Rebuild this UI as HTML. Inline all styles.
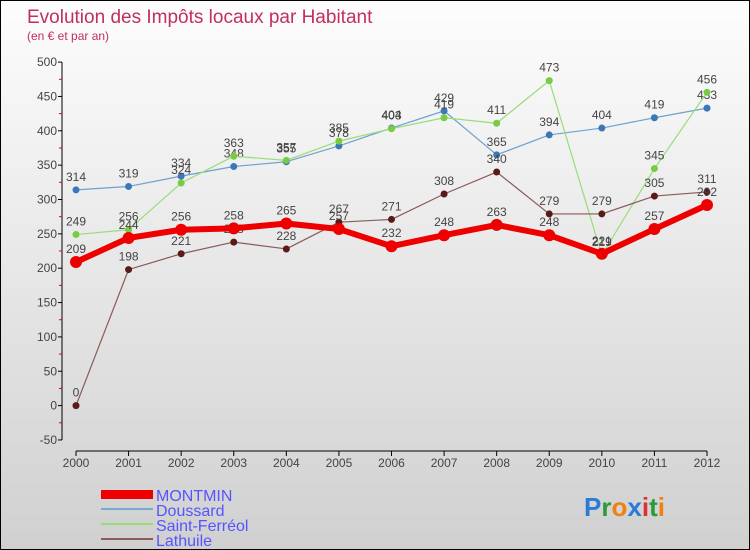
<!DOCTYPE html>
<html><head><meta charset="utf-8"><style>
body{margin:0;}
#c{width:750px;height:550px;position:relative;box-sizing:border-box;border:1px solid #000;background:linear-gradient(#fdfdfd,#d0d0d0);font-family:"Liberation Sans",sans-serif;overflow:hidden}
svg{position:absolute;left:0;top:0}
</style></head><body>
<div id="c">
<svg id="s" width="750" height="550">
<text x="26" y="22" font-size="19" fill="#c0305a">Evolution des Impôts locaux par Habitant</text>
<text x="26" y="39" font-size="12" fill="#c0305a">(en € et par an)</text>
<g id="axes"></g><g id="series"></g>
<g>
<rect x="100" y="489" width="52" height="9" fill="#e00"/>
<text x="155" y="500" font-size="16" fill="#5555ff">MONTMIN</text>
<rect x="100" y="507" width="52" height="2" fill="#7aa8d0"/>
<text x="155" y="515" font-size="16" fill="#5555ff">Doussard</text>
<rect x="100" y="522" width="52" height="2" fill="#99dd77"/>
<text x="155" y="530" font-size="16" fill="#5555ff">Saint-Ferréol</text>
<rect x="100" y="537" width="52" height="2" fill="#8b5a5a"/>
<text x="155" y="545" font-size="16" fill="#5555ff">Lathuile</text>
</g>
<text x="583" y="515" font-size="26" font-weight="bold"><tspan fill="#2a7ad8">P</tspan><tspan fill="#2a9a3a">r</tspan><tspan fill="#f08010">o</tspan><tspan fill="#2a7ad8">x</tspan><tspan fill="#e03030">i</tspan><tspan fill="#2a9a3a">t</tspan><tspan fill="#f08010">i</tspan></text>
</svg>
</div>
<script>
const years=[2000,2001,2002,2003,2004,2005,2006,2007,2008,2009,2010,2011,2012];
const montmin=[209,244,256,258,265,257,232,248,263,248,221,257,292];
const doussard=[314,319,334,348,355,378,404,429,365,394,404,419,433];
const saintFerreol=[249,256,324,363,357,385,403,419,411,473,219,345,456];
const lathuile=[0,198,221,238,228,267,271,308,340,279,279,305,311];
const yTicks=[-50,0,50,100,150,200,250,300,350,400,450,500];
const NS="http://www.w3.org/2000/svg";
function X(i){return 75+i*(706-75)/12;}
function Y(v){return 404.6-v*0.687;}
function mk(tag,attrs,parent){const e=document.createElementNS(NS,tag);for(const k in attrs)e.setAttribute(k,attrs[k]);parent.appendChild(e);return e;}
const ax=document.getElementById('axes');
let l=mk('line',{x1:61,y1:Y(500),x2:61,y2:Y(-50),stroke:'#000','stroke-width':1},ax);


yTicks.forEach(t=>{
 let tk=mk('line',{x1:57,x2:61,y1:Y(t),y2:Y(t),stroke:'#000'},ax);
 
 
 if(t<500){let m=mk('line',{x1:58,x2:61,y1:Y(t+25),y2:Y(t+25),stroke:'#e00'},ax);
 
 }
 let tx=mk('text',{x:56,y:Y(t)+4,'font-size':12,'text-anchor':'end',fill:'#444'},ax);
 tx.textContent=t;
 
 
});
l=mk('line',{x1:75,y1:450,x2:706,y2:450,stroke:'#000'},ax);


years.forEach((yr,i)=>{
 let tk=mk('line',{x1:X(i),x2:X(i),y1:450,y2:455,stroke:'#000'},ax);
 
 
 let tx=mk('text',{x:X(i),y:466,'font-size':12,'text-anchor':'middle',fill:'#444'},ax);
 tx.textContent=yr;
 
 
});
const sg=document.getElementById('series');
function series(vals,color,w,r,name,dot){
 const g=mk('g',{},sg);
 
 
 const p=mk('polyline',{points:vals.map((v,i)=>X(i)+','+Y(v)).join(' '),fill:'none',stroke:color,'stroke-width':w,'stroke-linejoin':'round'},g);
 
 
 vals.forEach((v,i)=>{
  const c=mk('circle',{cx:X(i),cy:Y(v),r:r,fill:dot},g);
  
  
  const t=mk('text',{x:X(i),y:Y(v)-9,'font-size':12,'text-anchor':'middle',fill:'#444'},g);
  t.textContent=v;
  
  
 });
}
series(doussard,'#6fa0d0',1.2,3.5,'doussard','#3a78b8');
series(saintFerreol,'#99dd77',1.2,3.5,'saint-ferreol','#77cc44');
series(lathuile,'#8b5a5a',1.2,3.5,'lathuile','#5a1a1a');
series(montmin,'#ee0000',6,6,'montmin','#ee0000');
</script>
</body></html>
